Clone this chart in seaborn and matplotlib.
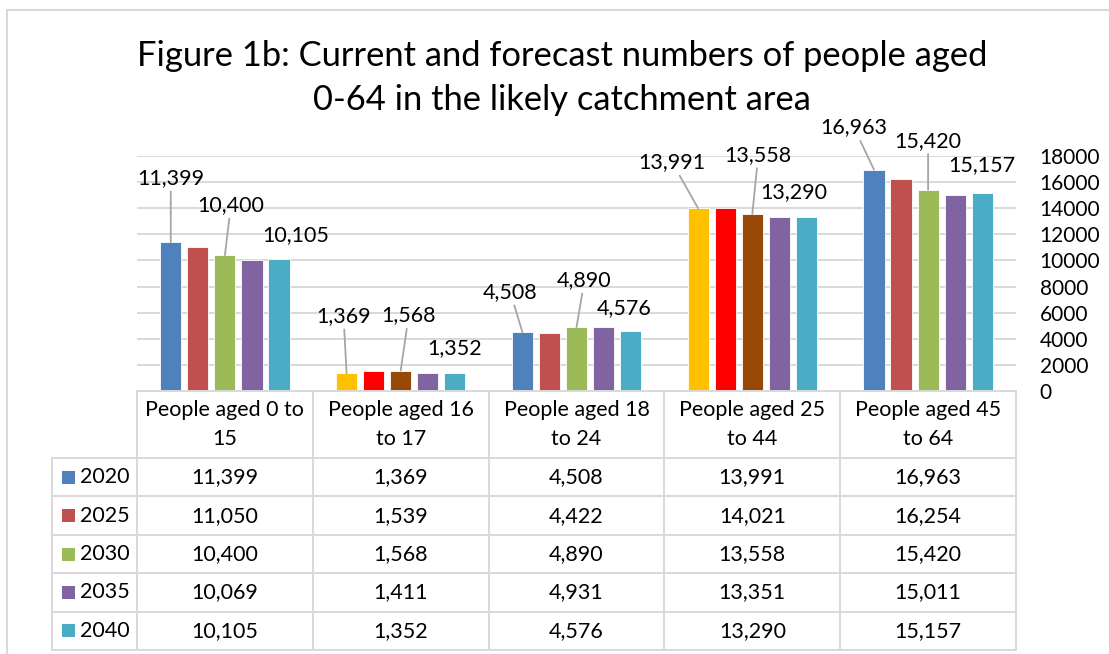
import matplotlib
matplotlib.use("Agg")
import matplotlib.pyplot as plt
import seaborn as sns
import pandas as pd
from matplotlib.patches import Rectangle
from matplotlib.lines import Line2D

# ---------------- data ----------------
groups = ["People aged 0 to\n15", "People aged 16\nto 17", "People aged 18\nto 24",
          "People aged 25\nto 44", "People aged 45\nto 64"]
years = ["2020", "2025", "2030", "2035", "2040"]
v2020 = [11399, 1369, 4508, 13991, 16963]
v2025 = [11050, 1539, 4422, 14021, 16254]
v2030 = [10400, 1568, 4890, 13558, 15420]
v2035 = [10069, 1411, 4931, 13351, 15011]
v2040 = [10105, 1352, 4576, 13290, 15157]
series = [v2020, v2025, v2030, v2035, v2040]
yticks = [0, 2000, 4000, 6000, 8000, 10000, 12000, 14000, 16000, 18000]

year_colors = ["#4F81BD", "#C0504D", "#9BBB59", "#8064A2", "#4BACC6"]
# custom overrides for groups 2 and 4 (index 1 and 3)
override_colors = {0: "#FFC000", 1: "#FF0000", 2: "#984807"}
override_groups = [1, 3]

# labelled bars: (group, year index, dx px, dy px, leader line)
labels = [
    (0, 0, 0, 64, True), (0, 2, 6, 50, True), (0, 4, 17, 24, False),
    (1, 0, -3, 57, True), (1, 2, 8, 55, True), (1, 4, 0, 25, False),
    (2, 0, -12, 40, True), (2, 2, 8, 47, True), (2, 4, -7, 23, False),
    (3, 0, -26, 46, True), (3, 2, 6, 59, True), (3, 4, -13, 25, False),
    (4, 0, -20, 42, True), (4, 2, 0, 49, True), (4, 4, 0, 28, False),
]

rows = []
for yi, y in enumerate(years):
    for gi, g in enumerate(groups):
        rows.append({"group": g, "year": y, "value": series[yi][gi]})
df = pd.DataFrame(rows)

# ---------------- figure ----------------
W, H = 1109, 654
FS = 15.5
sns.set_theme(style="white")
plt.rcParams["font.family"] = ["Lato", "DejaVu Sans"]

fig = plt.figure(figsize=(W / 100, H / 100), dpi=100)
fig.patch.set_facecolor("white")

# outer chart frame
fig.add_artist(Rectangle((7 / W, -0.1), 1.2, (H - 10) / H + 0.1, transform=fig.transFigure,
                         fill=False, edgecolor="#D9D9D9", lw=1.5))

left, right = 137 / W, 1016 / W
bottom, top = 1 - 391 / H, 1 - 156 / H
ax = fig.add_axes([left, bottom, right - left, top - bottom])

sns.barplot(data=df, x="group", y="value", hue="year", palette=year_colors,
            width=0.77, gap=0.22, ax=ax, legend=False, saturation=1,
            edgecolor="white", linewidth=0.6)

# recolor override bars
bars = sorted(ax.patches, key=lambda p: p.get_x())
for i, p in enumerate(bars):
    gi, yi = divmod(i, 5)
    if gi in override_groups and yi in override_colors:
        p.set_facecolor(override_colors[yi])

ax.set_xlim(-0.5, 4.5)
ax.set_ylim(0, 18000)
ax.set_yticks(yticks)
ax.set_yticklabels([str(t) for t in yticks], fontsize=15)
ax.yaxis.tick_right()
ax.tick_params(axis="y", length=0, pad=17, labelcolor="black")
ax.set_xticks([])
ax.set_xlabel("")
ax.set_ylabel("")
for s in ax.spines.values():
    s.set_visible(False)
ax.yaxis.grid(True, color="#D9D9D9", lw=1.4)
ax.set_axisbelow(True)
ax.set_facecolor("none")
for lab in ax.get_yticklabels():
    lab.set_horizontalalignment("left")

# data labels
for gi, yi, dx, dy, line in labels:
    p = bars[gi * 5 + yi]
    xc = p.get_x() + p.get_width() / 2
    yv = p.get_height()
    txt = f"{int(round(yv)):,}"
    kw = {}
    if line:
        kw["arrowprops"] = dict(arrowstyle="-", color="#A6A6A6", lw=1.3, shrinkA=0, shrinkB=0)
    ax.annotate(txt, xy=(xc, yv), xytext=(dx, dy), textcoords="offset pixels",
                ha="center", va="center", fontsize=FS, color="black",
                annotation_clip=False, **kw)

# title
fig.text(562 / W, 1 - 78 / H,
         "Figure 1b: Current and forecast numbers of people aged\n0-64 in the likely catchment area",
         ha="center", va="center", fontsize=24.8, linespacing=1.45, color="black")

# ---------------- data table ----------------
gc = "#D9D9D9"
lw = 1.4
col_x = [left + (right - left) * i / 5 for i in range(6)]
leg_left = 52 / W
y_top = 1 - 391 / H
y_head = 1 - 458 / H
row_h = (650 - 458) / 5 / H
row_y = [y_head - row_h * i for i in range(6)]

def hline(x0, x1, y):
    fig.add_artist(Line2D([x0, x1], [y, y], transform=fig.transFigure, color=gc, lw=lw))

def vline(x, y0, y1):
    fig.add_artist(Line2D([x, x], [y0, y1], transform=fig.transFigure, color=gc, lw=lw))

hline(col_x[0], col_x[-1], y_top)
for y in row_y:
    hline(leg_left, col_x[-1], y)
for x in col_x:
    vline(x, row_y[-1], y_top)
vline(leg_left, row_y[-1], y_head)

for gi, g in enumerate(groups):
    fig.text((col_x[gi] + col_x[gi + 1]) / 2, (y_top + y_head) / 2, g,
             ha="center", va="center", fontsize=FS, linespacing=1.58, color="black")

for yi, y in enumerate(years):
    yc = (row_y[yi] + row_y[yi + 1]) / 2
    sq = 13
    fig.add_artist(Rectangle((62 / W, yc - sq / 2 / H), sq / W, sq / H,
                             transform=fig.transFigure, facecolor=year_colors[yi],
                             edgecolor="none"))
    fig.text(80 / W, yc, y, ha="left", va="center", fontsize=FS, color="black")
    for gi in range(5):
        fig.text((col_x[gi] + col_x[gi + 1]) / 2, yc, f"{series[yi][gi]:,}",
                 ha="center", va="center", fontsize=FS, color="black")

fig.savefig("out.png", dpi=100)
